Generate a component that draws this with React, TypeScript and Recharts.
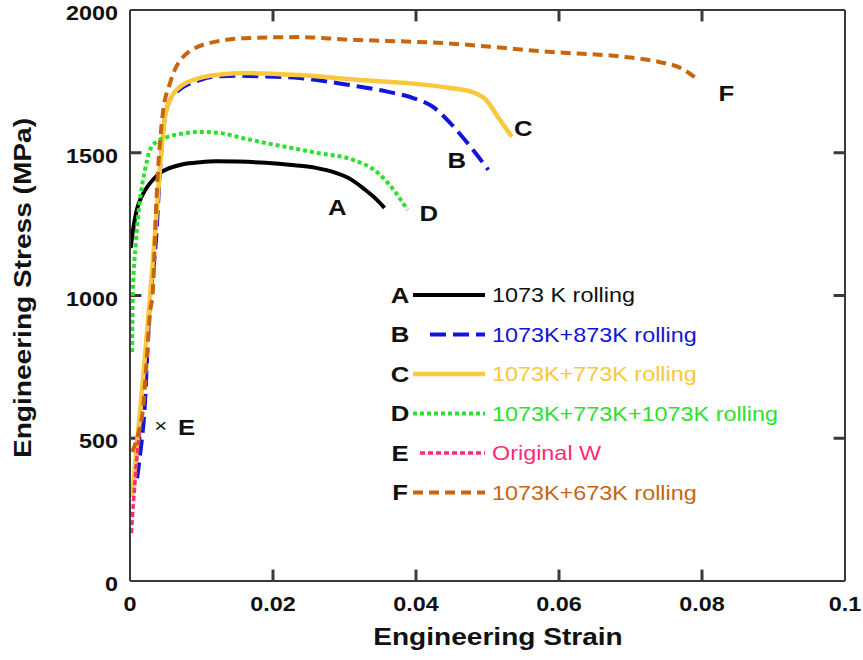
import { LineChart, Line, XAxis, YAxis, ReferenceDot, ReferenceLine } from "recharts";

const FONT = '"Liberation Sans", Arial, Helvetica, sans-serif';
const SX = 1.17; // the source figure's type is a little wider than Arial
const AXIS_COLOR = "#3a3a3a";

const X_TICKS = [0, 0.02, 0.04, 0.06, 0.08, 0.1];
const Y_TICKS = [0, 500, 1000, 1500, 2000];
const X_MIN = 0;
const X_MAX = 0.1;
const Y_MIN = 0;
const Y_MAX = 2000;
// inward tick length in data units (about 12px each way)
const TICK_DX = 0.0016;
const TICK_DY = 40;

// [strain, stress MPa]
const curveA: [number, number][] = [
  [0.0001, 1166], [0.0004, 1225], [0.001, 1305], [0.0016, 1345], [0.0024, 1380],
  [0.0033, 1408], [0.0042, 1429], [0.0055, 1446], [0.0074, 1460], [0.0098, 1467],
  [0.012, 1470], [0.015, 1469], [0.019, 1465], [0.023, 1456], [0.026, 1447],
  [0.0287, 1430], [0.031, 1405], [0.0328, 1372], [0.0345, 1336], [0.0356, 1307],
];
const curveB: [number, number][] = [
  [0.001, 360], [0.0014, 440], [0.002, 588], [0.0028, 984], [0.0033, 1100],
  [0.0037, 1219], [0.0041, 1400], [0.0045, 1545], [0.005, 1640], [0.0056, 1685],
  [0.0065, 1712], [0.0074, 1730], [0.0095, 1752], [0.0116, 1766], [0.015, 1770],
  [0.019, 1767], [0.0237, 1762], [0.0307, 1737], [0.036, 1714], [0.0398, 1690],
  [0.0423, 1662], [0.0448, 1604], [0.0465, 1555], [0.0481, 1506], [0.0501, 1440],
];
const curveC: [number, number][] = [
  [0.0003, 294], [0.0018, 704], [0.0028, 995], [0.0035, 1219], [0.0042, 1450],
  [0.0049, 1625], [0.0056, 1685], [0.007, 1731], [0.0098, 1762], [0.013, 1775],
  [0.0167, 1779], [0.0237, 1772], [0.032, 1755], [0.0388, 1744], [0.0445, 1728],
  [0.0478, 1713], [0.0498, 1685], [0.0516, 1620], [0.0534, 1556],
];
const curveD: [number, number][] = [
  [0.0003, 802], [0.0004, 1009], [0.0008, 1180], [0.0014, 1335], [0.0021, 1440],
  [0.0028, 1510], [0.0038, 1540], [0.0052, 1555], [0.0075, 1568], [0.0098, 1573],
  [0.0126, 1569], [0.016, 1550], [0.019, 1534], [0.023, 1515], [0.026, 1500],
  [0.0312, 1475], [0.0347, 1429], [0.0372, 1359], [0.0388, 1300],
];
const curveE: [number, number][] = [
  [0.0002, 168], [0.0005, 280], [0.0009, 410], [0.0014, 540],
];
const curveF: [number, number][] = [
  [0.0003, 452], [0.0012, 520], [0.0018, 600], [0.0023, 760], [0.0028, 938],
  [0.0032, 1019], [0.0037, 1335], [0.0046, 1639], [0.0056, 1744], [0.0074, 1835],
  [0.0112, 1885], [0.0167, 1902], [0.0237, 1905], [0.03, 1897], [0.0438, 1884],
  [0.0589, 1853], [0.069, 1836], [0.074, 1818], [0.077, 1797], [0.0795, 1755],
];

const LETTERS = ["A", "B", "C", "D", "E", "F"];
const NAMES = [
  "1073 K rolling",
  "1073K+873K rolling",
  "1073K+773K rolling",
  "1073K+773K+1073K rolling",
  "Original W",
  "1073K+673K rolling",
];
// where each curve letter sits on the plot [label, strain, stress]
const TAGS: [string, number, number][] = [
  ["A", 0.029, 1310],
  ["B", 0.0457, 1475],
  ["C", 0.055, 1587],
  ["D", 0.0418, 1289],
  ["F", 0.0834, 1709],
  ["\u00d7", 0.0043, 545],
  ["E", 0.0079, 540],
];

const STYLE = [
  { color: "#000000", dash: undefined, width: 4, legendX: 413 },
  { color: "#1414d8", dash: "16 7", width: 4, legendX: 430 },
  { color: "#f9c83c", dash: undefined, width: 4.5, legendX: 413 },
  { color: "#2ee02e", dash: "4 3", width: 4, legendX: 413 },
  { color: "#ff2a78", dash: "5 3", width: 3.5, legendX: 420 },
  { color: "#c8660f", dash: "10 6", width: 4, legendX: 413 },
];
const TEXT_COLORS = ["#111111", "#1414d8", "#f9c83c", "#2ee02e", "#ff2a78", "#c8660f"];

const CURVES = [curveA, curveB, curveC, curveD, curveE, curveF].map((c) =>
  c.map(([x, y]) => ({ x, y }))
);

// inward tick segments on all four sides of the frame
const INNER_X = X_TICKS.slice(1, -1);
const INNER_Y = Y_TICKS.slice(1, -1);
const TICK_SEGMENTS = [
  ...INNER_Y.map((t) => [{ x: X_MAX, y: t }, { x: X_MAX - TICK_DX, y: t }]),
  ...INNER_Y.map((t) => [{ x: X_MIN + TICK_DX, y: t }, { x: X_MIN, y: t }]),
  ...INNER_X.map((t) => [{ x: t, y: Y_MAX }, { x: t, y: Y_MAX - TICK_DY }]),
  ...INNER_X.map((t) => [{ x: t, y: Y_MIN + TICK_DY }, { x: t, y: Y_MIN }]),
];

function LeftTick(props: any) {
  const { x, y, payload } = props;
  return (
    <g transform={`translate(${x},${y + 3}) scale(${SX},1)`}>
      <text x={0} y={0} dy="0.36em" textAnchor="end" fontFamily={FONT} fontWeight="bold" fontSize={20} fill="#111">
        {payload.value}
      </text>
    </g>
  );
}

function BottomTick(props: any) {
  const { x, y, payload } = props;
  return (
    <g transform={`translate(${x},${y}) scale(${SX},1)`}>
      <text x={0} y={0} dy="0.72em" textAnchor="middle" fontFamily={FONT} fontWeight="bold" fontSize={20} fill="#111">
        {payload.value === 0 ? "0" : String(payload.value)}
      </text>
    </g>
  );
}

function Tag(label: string) {
  const cross = label === "\u00d7";
  return (p: any) => (
    <g transform={`translate(${p.cx},${p.cy}) scale(${SX},1)`}>
      <text
        x={0}
        y={0}
        dy="0.36em"
        textAnchor="middle"
        fontFamily={FONT}
        fontWeight={cross ? "normal" : "bold"}
        fontSize={cross ? 19 : 22}
        fill="#111"
      >
        {label}
      </text>
    </g>
  );
}

export default function App() {
  const axisLine = { stroke: AXIS_COLOR, strokeWidth: 2 };
  return (
    <div style={{ position: "absolute", left: 0, top: 0, width: 863, height: 660, background: "#fff" }}>
      <LineChart width={863} height={660} margin={{ top: 9, right: 17, left: 0, bottom: 0 }}>
        <XAxis
          type="number"
          dataKey="x"
          domain={[X_MIN, X_MAX]}
          ticks={X_TICKS}
          allowDataOverflow
          height={79}
          tickSize={0}
          tickMargin={16}
          tick={<BottomTick />}
          axisLine={axisLine}
          tickLine={false}
        />
        <XAxis
          xAxisId="top"
          orientation="top"
          type="number"
          dataKey="x"
          domain={[X_MIN, X_MAX]}
          ticks={X_TICKS}
          height={1}
          tick={false}
          axisLine={axisLine}
          tickLine={false}
        />
        <YAxis
          type="number"
          domain={[Y_MIN, Y_MAX]}
          ticks={Y_TICKS}
          allowDataOverflow
          width={130}
          tickSize={0}
          tickMargin={12}
          tick={<LeftTick />}
          axisLine={axisLine}
          tickLine={false}
        />
        <YAxis
          yAxisId="right"
          orientation="right"
          type="number"
          domain={[Y_MIN, Y_MAX]}
          ticks={Y_TICKS}
          width={1}
          tick={false}
          axisLine={axisLine}
          tickLine={false}
        />
        {TICK_SEGMENTS.map((seg, i) => (
          <ReferenceLine
            key={`tick${i}`}
            segment={seg}
            stroke={AXIS_COLOR}
            strokeWidth={3}
            ifOverflow="visible"
          />
        ))}
        {CURVES.map((data, i) => (
          <Line
            key={LETTERS[i]}
            data={data}
            dataKey="y"
            type="monotone"
            stroke={STYLE[i].color}
            strokeWidth={STYLE[i].width}
            strokeDasharray={STYLE[i].dash}
            dot={false}
            activeDot={false}
            isAnimationActive={false}
          />
        ))}
        {TAGS.map(([label, x, y], i) => (
          <ReferenceDot key={`tag${i}`} x={x} y={y} r={0} shape={Tag(label)} ifOverflow="visible" />
        ))}
      </LineChart>
      <svg width={863} height={660} style={{ position: "absolute", left: 0, top: 0, pointerEvents: "none" }}>
        <g transform={`translate(498,645) scale(${SX},1)`}>
          <text textAnchor="middle" fontFamily={FONT} fontWeight="bold" fontSize={24} fill="#111">
            Engineering Strain
          </text>
        </g>
        <g transform={`translate(31,288) rotate(-90) scale(${SX},1)`}>
          <text textAnchor="middle" fontFamily={FONT} fontWeight="bold" fontSize={24} fill="#111">
            Engineering Stress (MPa)
          </text>
        </g>
        {NAMES.map((name, i) => {
          const cy = 295 + i * 39.5;
          const s = STYLE[i];
          return (
            <g key={name}>
              <g transform={`translate(400,${cy}) scale(${SX},1)`}>
                <text x={0} y={0} dy="0.36em" textAnchor="middle" fontFamily={FONT} fontWeight="bold" fontSize={22} fill="#111">
                  {LETTERS[i]}
                </text>
              </g>
              <line x1={s.legendX} x2={485} y1={cy} y2={cy} stroke={s.color} strokeWidth={s.width} strokeDasharray={s.dash} />
              <g transform={`translate(492,${cy}) scale(${SX},1)`}>
                <text x={0} y={0} dy="0.36em" fontFamily={FONT} fontSize={20} fill={TEXT_COLORS[i]}>
                  {name}
                </text>
              </g>
            </g>
          );
        })}
      </svg>
    </div>
  );
}
